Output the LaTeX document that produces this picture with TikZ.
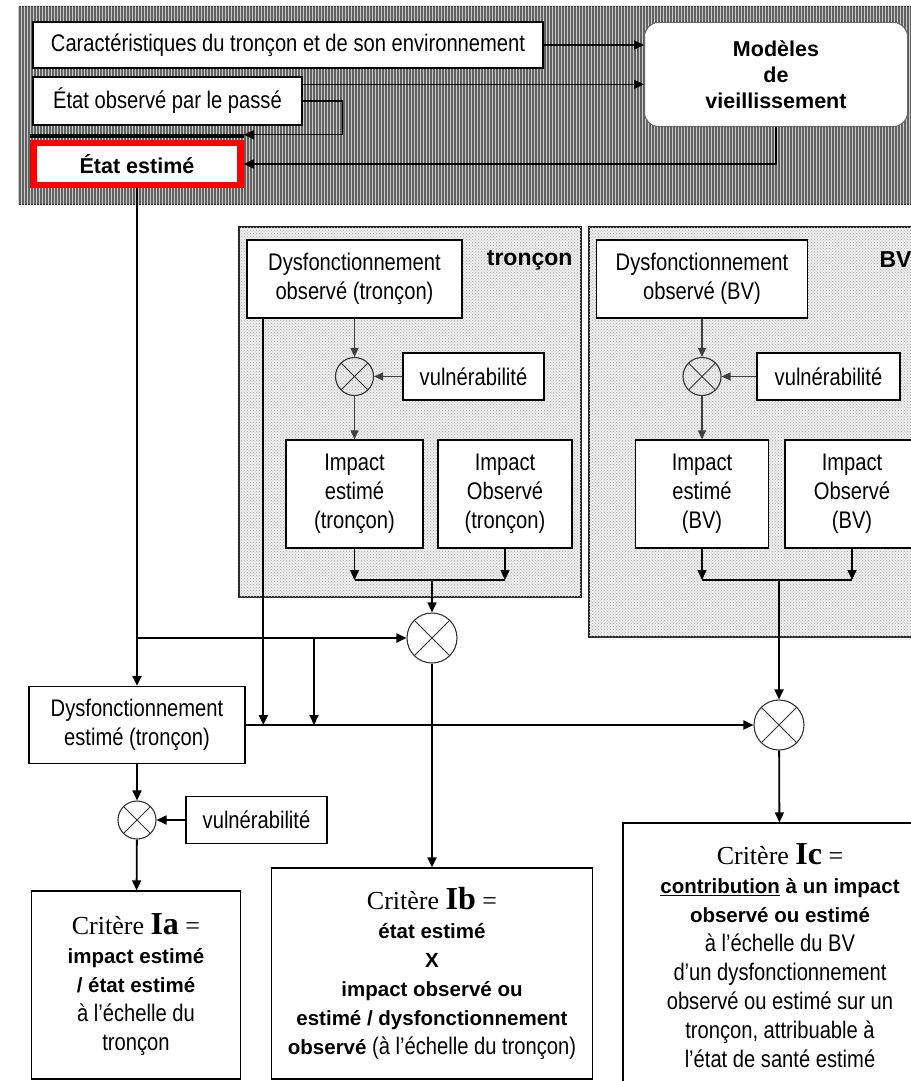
\documentclass[tikz,border=0pt]{standalone}
\usepackage{fontspec}
\setmainfont{Liberation Sans}
\newfontfamily\narrowfont{Liberation Sans}[FakeStretch=0.84]
\newfontfamily\critfont{Liberation Serif}
\usetikzlibrary{arrows.meta,patterns,patterns.meta,positioning}
\newcommand{\nrw}{\narrowfont\fontsize{24}{29}\selectfont}
\newcommand{\bld}{\normalfont\bfseries\fontsize{20.5}{29}\selectfont}
\newcommand{\crit}[1]{{\critfont\fontsize{26}{29}\selectfont Critère {\bfseries\fontsize{32}{29}\selectfont #1} =}}
\tikzset{
 box/.style={draw, line width=1.3pt, fill=white, inner sep=0pt, align=center, font=\nrw},
 ox/.style={circle, draw=black!80, line width=1.1pt, minimum size=38pt, inner sep=0pt,
  path picture={\draw[line width=1pt] (path picture bounding box.north west) -- (path picture bounding box.south east) (path picture bounding box.south west) -- (path picture bounding box.north east);}},
 bigox/.style={ox, minimum size=50pt},
 arr/.style={-{Triangle[length=10pt,width=9pt]}, line width=1.8pt},
 thinarr/.style={-{Triangle[length=9pt,width=8pt]}, line width=1.2pt, black!75},
 topshade/.style={fill=black!62, postaction={pattern={Lines[angle=90,distance=3pt,line width=1pt]}, pattern color=white!80!black}, draw=black!80, line width=1pt},
 lightshade/.style={fill=black!7, postaction={pattern=crosshatch dots, pattern color=black!32}, draw=black!85, line width=1.2pt},
 lbl/.style={font=\normalfont\bfseries\fontsize{23}{28}\selectfont},
 boldbox/.style={font=\normalfont\bfseries\fontsize{21.5}{26}\selectfont}
}
\begin{document}
\begin{tikzpicture}[x=1pt,y=-1pt]
\useasboundingbox (0,0) rectangle (910,1081);
\fill[white] (0,0) rectangle (910,1081);
\draw[topshade] (18,7) rectangle (915,204);
\draw[lightshade] (239,227) rectangle (581,597);
\draw[lightshade] (589,227) rectangle (915,637);

\node[box, minimum width=510pt, minimum height=46pt] (car) at (288,45) {Caractéristiques du tronçon et de son environnement};
\node[box, minimum width=269pt, minimum height=48pt] (obs) at (167.5,101) {État observé par le passé};
\node[box, boldbox, draw=red, line width=6.5pt, minimum width=207pt, minimum height=42pt] (est) at (137,164) {État estimé};
\node[box, boldbox, draw=black!60, line width=1pt, rounded corners=14pt, minimum width=263pt, minimum height=104pt] (mod) at (776,74.5) {Modèles\\de\\vieillissement};
\coordinate (obsA) at ([yshift=-8pt]obs.north east);
\coordinate (estbar) at ([yshift=5pt]est.north east);
\draw[arr, line width=1.3pt] (car) -- (car -| mod.west);
\draw[arr, line width=1.3pt] (obsA) -- (obsA -| mod.west);
\draw[arr, line width=1.3pt] (obs.east) -- ++(40,0) |- (estbar);
\draw[arr, line width=1.3pt] (mod.south) |- (est.east);
\draw[line width=4pt] ([yshift=4pt]est.north west) -- ([yshift=4pt]est.north east);

\node[lbl, anchor=east] (lblT) at (576,260) {tronçon};
\node[box, minimum width=215pt, minimum height=78pt] (dobsT) at (354.5,279) {Dysfonctionnement\\observé (tronçon)};
\node[ox] (oxT) at (354.5,376.5) {};
\node[box, minimum width=141pt, minimum height=47pt] (vulT) at (473.5,376.5) {vulnérabilité};
\node[box, minimum width=137pt, minimum height=108pt] (ieT) at (354.5,494) {Impact\\estimé\\(tronçon)};
\node[box, minimum width=134pt, minimum height=108pt] (ioT) at (505,494) {Impact\\Observé\\(tronçon)};
\coordinate (jT) at (432,580);
\draw[thinarr] (dobsT) -- (oxT);
\draw[thinarr] (vulT) -- (oxT);
\draw[thinarr] (oxT) -- (ieT);
\draw[arr, line width=1.4pt] (ieT) -- (ieT |- jT);
\draw[arr, line width=1.4pt] (ioT) -- (ioT |- jT);
\draw[line width=1.4pt] (ieT |- jT) -- (ioT |- jT);

\node[lbl, anchor=west] (lblB) at (876,260) {BV};
\node[box, minimum width=211pt, minimum height=78pt] (dobsB) at (702,279) {Dysfonctionnement\\observé (BV)};
\node[ox] (oxBV) at (702,376.5) {};
\node[box, minimum width=143pt, minimum height=47pt] (vulB) at (828.5,376.5) {vulnérabilité};
\node[box, minimum width=133pt, minimum height=108pt] (ieB) at (702,494) {Impact\\estimé\\(BV)};
\node[box, minimum width=134pt, minimum height=108pt] (ioB) at (852,494) {Impact\\Observé\\(BV)};
\coordinate (jB) at (779,580);
\draw[thinarr] (dobsB) -- (oxBV);
\draw[thinarr] (vulB) -- (oxBV);
\draw[thinarr] (oxBV) -- (ieB);
\draw[arr, line width=1.4pt] (ieB) -- (ieB |- jB);
\draw[arr, line width=1.4pt] (ioB) -- (ioB |- jB);
\draw[line width=1.4pt] (ieB |- jB) -- (ioB |- jB);

\node[bigox] (oxB) at (432,638) {};
\node[bigox] (oxC) at (779,725) {};
\node[box, minimum width=216pt, minimum height=77pt] (dest) at (137,725) {Dysfonctionnement\\estimé (tronçon)};
\node[ox] (oxA) at (137,820) {};
\node[box, minimum width=141pt, minimum height=47pt] (vulA) at (256.5,820) {vulnérabilité};
\node[box, minimum width=209pt, minimum height=188pt] (Ia) at (136,985) {\crit{Ia}\\ {\bld impact estimé}\\ {\bld / état estimé}\\ à l’échelle du\\ tronçon};
\node[box, minimum width=321pt, minimum height=211pt] (Ib) at (432,973.5) {\crit{Ib}\\ {\bld état estimé}\\ {\bld X}\\ {\bld impact observé ou}\\ {\bld estimé / dysfonctionnement}\\ {\bld observé} (à l’échelle du tronçon)};
\node[box, minimum width=314pt, minimum height=266pt] (Ic) at (780,956) {\crit{Ic}\\ {\bld\underline{contribution} à un impact}\\ {\bld observé ou estimé}\\ à l’échelle du BV\\ d’un dysfonctionnement\\ observé ou estimé sur un\\ tronçon, attribuable à\\ l’état de santé estimé};
\coordinate (brT) at (314,638);
\coordinate (dobsL) at ([xshift=17pt]dobsT.south west);
\draw[arr, line width=1.4pt] (jT) -- (oxB);
\draw[arr, line width=2.2pt] (est) -- (dest);
\draw[arr] (est |- oxB) -- (oxB);
\draw[arr] (brT) -- (brT |- oxC);
\draw[arr] (dobsL) -- (dobsL |- oxC);
\draw[arr] (dest) -- (oxC);
\draw[arr] (jB) -- (oxC);
\draw[arr] (oxB) -- (Ib);
\draw[arr] (oxC) -- (Ic);
\draw[arr] (dest) -- (oxA);
\draw[arr] (vulA) -- (oxA);
\draw[arr] (oxA) -- (Ia);
\end{tikzpicture}
\end{document}
